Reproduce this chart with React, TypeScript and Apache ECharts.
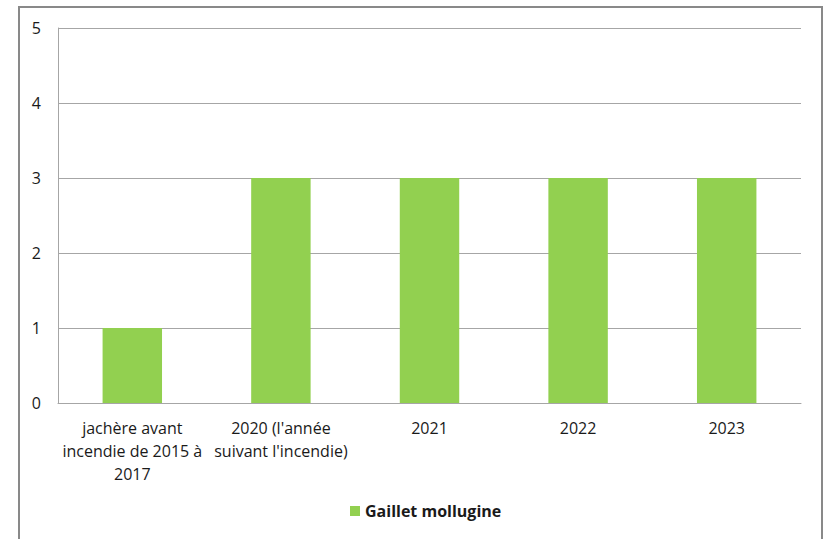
import React, { useEffect, useRef } from "react";
import * as echarts from "echarts";

const categories = [
  "jachère avant\nincendie de 2015 à\n2017",
  "2020 (l'année\nsuivant l'incendie)",
  "2021",
  "2022",
  "2023",
];
const seriesName = "Gaillet mollugine";
const values = [1, 3, 3, 3, 3];
const yTicks = { min: 0, max: 5, interval: 1 };

const FONT = "'Open Sans', 'Liberation Sans', sans-serif";

export default function App() {
  const ref = useRef<HTMLDivElement>(null);
  useEffect(() => {
    if (!ref.current) return;
    const chart = echarts.init(ref.current, undefined, { renderer: "svg" });
    chart.setOption({
      animation: false,
      backgroundColor: "#ffffff",
      graphic: [
        {
          type: "rect",
          shape: { x: 19, y: 7, width: 803, height: 600 },
          style: { fill: "none", stroke: "#898989", lineWidth: 2 },
          silent: true,
          z: 0,
        },
      ],
      grid: { left: 58, top: 28, right: 24, bottom: 136, containLabel: false },
      legend: {
        data: [seriesName],
        bottom: 15,
        left: 345,
        icon: "rect",
        itemWidth: 10,
        itemHeight: 10,
        itemGap: 6,
        textStyle: { fontFamily: FONT, fontSize: 16, fontWeight: "bold", color: "#1a1a1a" },
      },
      xAxis: {
        type: "category",
        data: categories,
        axisLine: { show: true, lineStyle: { color: "#a6a6a6", width: 1 } },
        axisTick: { show: false },
        axisLabel: {
          interval: 0,
          margin: 13,
          color: "#1a1a1a",
          fontFamily: FONT,
          fontSize: 16,
          lineHeight: 23,
        },
      },
      yAxis: {
        type: "value",
        min: yTicks.min,
        max: yTicks.max,
        interval: yTicks.interval,
        axisLine: { show: true, lineStyle: { color: "#a6a6a6", width: 1 } },
        axisTick: { show: false },
        splitLine: { show: true, lineStyle: { color: "#a6a6a6", width: 1 } },
        axisLabel: { margin: 17, color: "#1a1a1a", fontFamily: FONT, fontSize: 16 },
      },
      series: [
        {
          name: seriesName,
          type: "bar",
          data: values,
          barWidth: "40%",
          itemStyle: { color: "#92d050" },
        },
      ],
    });
    return () => chart.dispose();
  }, []);
  return (
    <div
      ref={ref}
      style={{ position: "fixed", left: 0, top: 0, width: 825, height: 539 }}
    />
  );
}
